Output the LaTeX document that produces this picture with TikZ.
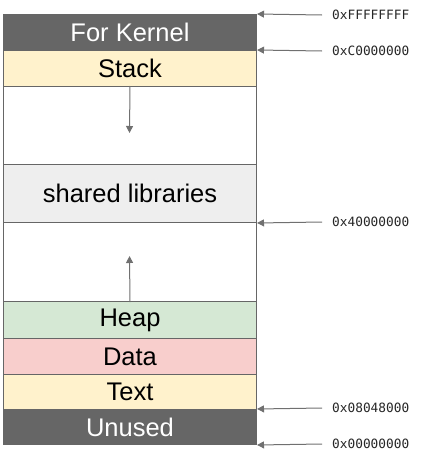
\documentclass[tikz,border=0pt]{standalone}
\usepackage{fontspec}
\setmainfont{Liberation Sans}
\newfontfamily\addrfont{DejaVu Sans Mono}
\usetikzlibrary{arrows.meta}
\definecolor{darkseg}{HTML}{666666}
\definecolor{yellowseg}{HTML}{FFF2CC}
\definecolor{greenseg}{HTML}{D5E8D4}
\definecolor{redseg}{HTML}{F8CECC}
\definecolor{greyseg}{HTML}{EEEEEE}
\definecolor{edgecol}{HTML}{666666}
\definecolor{arrcol}{HTML}{707070}
\tikzset{
  seg/.style={draw=edgecol, line width=1pt, minimum width=253pt, inner sep=0pt, anchor=north west, font=\fontsize{25.5}{28}\selectfont},
  darkbox/.style={seg, fill=darkseg, text=white},
  addr/.style={anchor=west, inner sep=0pt, font=\addrfont\fontsize{12.8}{14}\selectfont, text=black!85},
  ptr/.style={draw=arrcol, line width=1pt, -{Triangle[length=7pt,width=7pt]}},
}
\begin{document}
\begin{tikzpicture}[x=1pt,y=-1pt]
\useasboundingbox (0,0) rectangle (422,463);
\node[seg, minimum height=78pt] (gap1) at (3,86) {};
\node[seg, minimum height=79pt] (gap2) at (3,222) {};
\node[darkbox, minimum height=36pt] (kern) at (3,14) {For Kernel};
\node[seg, fill=yellowseg, minimum height=36pt] (stack) at (3,50) {Stack};
\node[seg, fill=greyseg, minimum height=58pt] (shared) at (3,164) {shared libraries};
\node[seg, fill=greenseg, minimum height=37pt] (heap) at (3,301) {Heap};
\node[seg, fill=redseg, minimum height=36pt] (data) at (3,338) {Data};
\node[seg, fill=yellowseg, minimum height=35pt] (text) at (3,374) {Text};
\node[darkbox, minimum height=35pt] (unused) at (3,409) {Unused};
% growth arrows
\coordinate (downtip) at (129.5,133);
\coordinate (uptip) at (129.5,256);
\draw[ptr] (gap1.north) -- (downtip);
\draw[ptr] (gap2.south) -- (uptip);
% address labels
\node[addr] (aF) at (332,15) {0xFFFFFFFF};
\node[addr] (aC) at (332,51) {0xC0000000};
\node[addr] (a4) at (332,222) {0x40000000};
\node[addr] (a08) at (332,408) {0x08048000};
\node[addr] (a0) at (332,444) {0x00000000};
\draw[ptr] ([xshift=-10pt]aF.west) -- (kern.north east);
\draw[ptr] ([xshift=-10pt]aC.west) -- (stack.north east);
\draw[ptr] ([xshift=-10pt]a4.west) -- (shared.south east);
\draw[ptr] ([xshift=-10pt]a08.west) -- (unused.north east);
\draw[ptr] ([xshift=-10pt]a0.west) -- (unused.south east);
\end{tikzpicture}
\end{document}
